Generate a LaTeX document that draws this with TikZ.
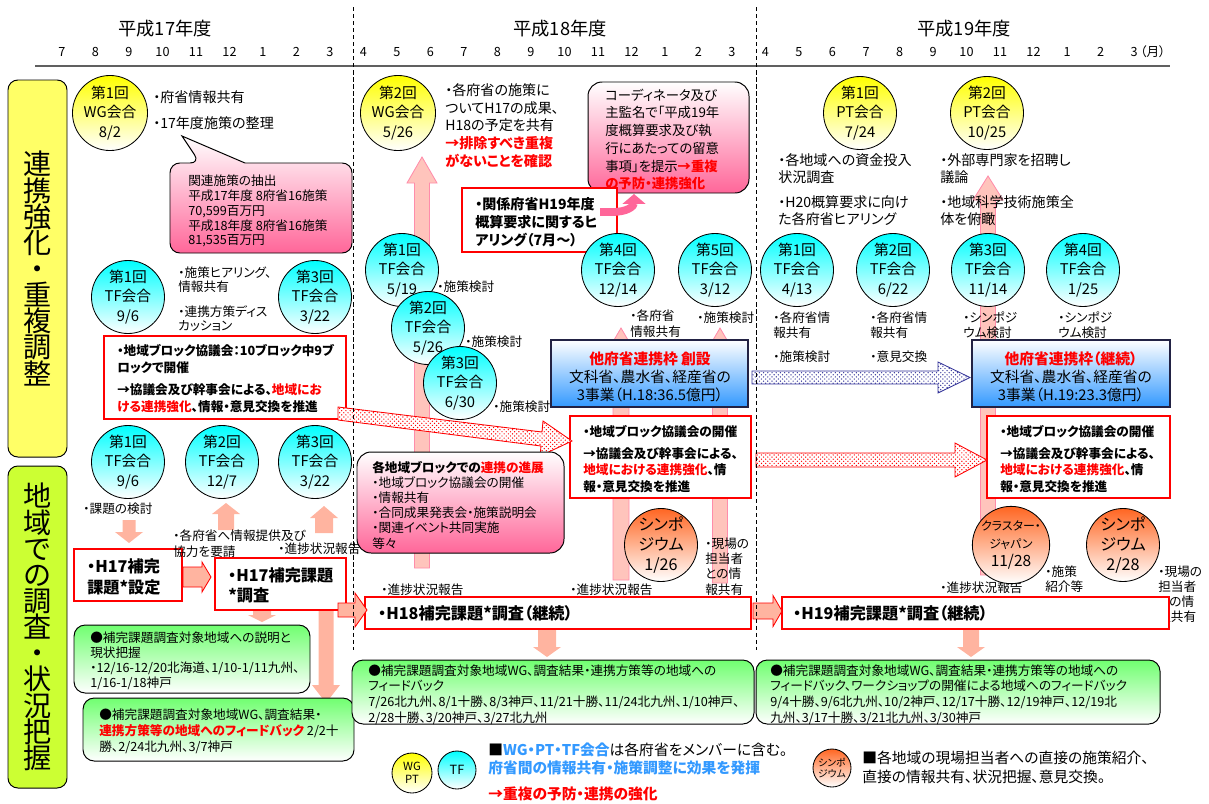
\documentclass[tikz,border=0pt]{standalone}
\usepackage{fontspec}
\setmainfont{Noto Sans CJK JP}[RawFeature={+palt}]
\usepackage{xcolor}
\usepackage{tikz}
\usetikzlibrary{patterns,arrows.meta}

\definecolor{panelY}{HTML}{FFFF66}
\definecolor{panelG}{HTML}{CCFF33}
\definecolor{arrPink}{HTML}{FFC4BC}
\definecolor{arrPinkLine}{HTML}{FF8CAA}
\definecolor{salmon}{HTML}{FFB4A0}
\definecolor{boxPink}{HTML}{FF6699}
\definecolor{boxBlue}{HTML}{3399FF}
\definecolor{boxGreen}{HTML}{70FF70}
\definecolor{symOrange}{HTML}{FF6622}
\definecolor{lblue}{HTML}{3399FF}
\definecolor{navy}{HTML}{333399}
\definecolor{frameDark}{HTML}{222244}
\definecolor{axisgray}{HTML}{606060}

\newcommand{\pxu}{0.025cm}
\newcommand{\redbf}[1]{\textcolor{red}{\bfseries #1}}
\newcommand{\bluebf}[1]{\textcolor{lblue}{\bfseries #1}}
% block arrows: [style]{centre}{tail}{tip}{half shaft}{half head}{head length}
\newcommand{\arrUp}[7][]{%
  \path[#1] ({#2-#5},#3) -- ({#2-#5},{#4+#7}) -- ({#2-#6},{#4+#7}) -- (#2,#4)
    -- ({#2+#6},{#4+#7}) -- ({#2+#5},{#4+#7}) -- ({#2+#5},#3) -- cycle;}
\newcommand{\arrDown}[7][]{%
  \path[#1] ({#2-#5},#3) -- ({#2-#5},{#4-#7}) -- ({#2-#6},{#4-#7}) -- (#2,#4)
    -- ({#2+#6},{#4-#7}) -- ({#2+#5},{#4-#7}) -- ({#2+#5},#3) -- cycle;}
\newcommand{\arrRight}[7][]{%
  \path[#1] (#3,{#2-#5}) -- ({#4-#7},{#2-#5}) -- ({#4-#7},{#2-#6}) -- (#4,#2)
    -- ({#4-#7},{#2+#6}) -- ({#4-#7},{#2+#5}) -- (#3,{#2+#5}) -- cycle;}

\tikzset{
  yearhdr/.style={inner sep=0pt, font=\fontsize{13}{15}\selectfont},
  month/.style={inner sep=0pt, font=\fontsize{9}{10}\selectfont},
  txt/.style={anchor=west, align=left, inner sep=0pt, font=\fontsize{9}{10.6}\selectfont},
  txtm/.style={anchor=west, align=left, inner sep=0pt, font=\fontsize{10}{12.4}\selectfont},
  ring/.style={circle, draw=black, line width=0.6pt, minimum size=73*\pxu, inner sep=0pt, align=center, font=\fontsize{10.5}{13.8}\selectfont},
  wgring/.style={ring, top color=yellow, bottom color=white},
  tfring/.style={ring, top color=cyan, bottom color=white},
  symring/.style={ring, top color=symOrange, bottom color=white, font=\fontsize{11.5}{14.2}\selectfont},
  redbox/.style={rectangle, draw=red, line width=0.75pt, fill=white, inner sep=0pt},
  bluebox/.style={rectangle, draw=frameDark, line width=0.9pt, top color=white, bottom color=boxBlue, inner sep=0pt},
  greenbox/.style={rectangle, rounded corners=8pt, draw=black, line width=0.7pt, top color=boxGreen, bottom color=white, inner sep=0pt},
  pinkbox/.style={draw=black, line width=0.7pt, top color=white, bottom color=boxPink},
  panel/.style={rectangle, rounded corners=7pt, draw=black, line width=0.7pt, minimum width=59*\pxu, inner sep=0pt, align=center, font={\fontsize{20}{18.6}\selectfont\lineskiplimit=-10pt}},
  bigarr/.style={fill=arrPink, draw=arrPinkLine, line width=0.6pt},
  smallarr/.style={fill=salmon},
  edgearr/.style={fill=salmon, draw=red, line width=0.6pt},
  redhatch/.style={preaction={fill=white}, pattern=crosshatch dots, pattern color=red, draw=red, line width=0.6pt},
  bluehatch/.style={preaction={fill=white}, pattern=crosshatch dots, pattern color=navy, draw=navy, line width=0.6pt},
  curvearr/.style={draw=boxPink, line width=5.5pt, -{Triangle[length=7pt,width=16pt]}},
  divider/.style={black, line width=0.7pt, dash pattern=on 3pt off 2pt}
}

\begin{document}
\begin{tikzpicture}[x=0.025cm, y=-0.025cm]
\useasboundingbox (0,0) rectangle (1209,803);

% years and months
\node[yearhdr] (Year17) at (165,29) {平成17年度};
\node[yearhdr] (Year18) at (560,29) {平成18年度};
\node[yearhdr] (Year19) at (964,29) {平成19年度};
\foreach \m [count=\i from 0] in {7,8,9,10,11,12,1,2,3,4,5,6,7,8,9,10,11,12,1,2,3,4,5,6,7,8,9,10,11,12,1,2,3}
  \node[month] (M\i) at ({62+33.5*\i},52) {\m};
\node[month, anchor=west] (Unit) at ([xshift=1.5pt]M32.east) {（月）};
\coordinate (AxisL) at (35,66);
\coordinate (AxisR) at (1170,66);
\draw[axisgray, line width=1.2pt] (AxisL) -- (AxisR);

% side panels
\node[panel, fill=panelY, minimum height=377*\pxu] (Panel1) at (37.5,268.5) {連\\携\\強\\化\\・\\重\\複\\調\\整};
\node[panel, fill=panelG, minimum height=322*\pxu] (Panel2) at (37.5,627) {地\\域\\で\\の\\調\\査\\・\\状\\況\\把\\握};

% long arrows behind everything
\arrUp[bigarr]{422}{568}{157}{7.5}{15}{26}
\arrUp[bigarr]{621}{580}{328}{8}{14}{24}
\arrUp[bigarr]{720}{583}{328}{7.5}{14}{24}
\arrUp[bigarr]{988}{575}{176}{7.5}{15}{24}

% short arrows
\arrDown[smallarr]{129}{520}{543}{6.5}{14}{11}
\arrUp[smallarr]{226}{530}{503}{8}{14}{11}
\arrUp[smallarr]{324}{533}{506}{9}{14}{12}
\arrDown[smallarr]{262}{610}{622}{9}{14}{7}
\arrDown[smallarr]{326}{610}{703}{7.5}{14}{18}
\arrDown[smallarr]{547}{629}{657}{9}{14}{10}
\arrDown[smallarr]{971}{629}{657}{8}{14}{10}

% WG / PT meetings
\node[wgring] (WG1) at (110,113) {第1回\\WG会合\\8/2};
\node[wgring] (WG2) at (398,113) {第2回\\WG会合\\5/26};
\node[wgring] (PT1) at (860,113) {第1回\\PT会合\\7/24};
\node[wgring] (PT2) at (987,113) {第2回\\PT会合\\10/25};
\node[txtm] (Note1) at (153,97) {・府省情報共有};
\node[txtm] (Note2) at (153,123) {・17年度施策の整理};
\node[txtm, font=\fontsize{10}{12.6}\selectfont] (Note3) at (445,125.5) {・各府省の施策に\\ついてH17の成果、\\H18の予定を共有\\\redbf{→排除すべき重複}\\\redbf{がないことを確認}};
\node[txtm, font=\fontsize{10}{12}\selectfont] (Note4) at (778,168.5) {・各地域への資金投入\\状況調査};
\node[txtm, font=\fontsize{10}{12}\selectfont] (Note5) at (778,210.5) {・H20概算要求に向け\\た各府省ヒアリング};
\node[txtm, font=\fontsize{10}{12}\selectfont] (Note6) at (940,168.5) {・外部専門家を招聘し\\議論};
\node[txtm, font=\fontsize{10}{12}\selectfont] (Note7) at (940,210.5) {・地域科学技術施策全\\体を俯瞰};

% callouts
\draw[pinkbox] (200,163) -- (182,136) -- (245,163) [rounded corners=7pt] -- (352,163) -- (352,253) -- (170,253) -- (170,163) -- cycle;
\node[txt] (Extract) at (188,211) {関連施策の抽出\\平成17年度 8府省16施策\\70,599百万円\\平成18年度 8府省16施策\\81,535百万円};
\node[rectangle, rounded corners=10pt, pinkbox, minimum width=161*\pxu, minimum height=111*\pxu] (Notice) at (668.5,137.5) {};
\node[txt, font=\fontsize{9.5}{12.6}\selectfont] (NoticeTxt) at (605,139.5) {コーディネータ及び\\主監名で「平成19年\\度概算要求及び執\\行にあたっての留意\\事項」を提示\redbf{→重複}\\\redbf{の予防・連携強化}};
\node[redbox, minimum width=155*\pxu, minimum height=64*\pxu] (Hearing) at (539.5,220) {};
\node[txt, font=\bfseries\fontsize{10}{12.8}\selectfont] (HearingTxt) at (475,222) {・関係府省H19年度\\概算要求に関するヒ\\アリング（7月～）};
\coordinate (HearOut) at (600,212);
\coordinate (NoticeIn) at (634,194);
\draw[curvearr] (HearOut) -- (612,212) .. controls (628,212) and (634,206) .. (NoticeIn);

% TF meetings (coordination)
\node[tfring] (TFa1) at (128,297) {第1回\\TF会合\\9/6};
\node[tfring] (TFa3) at (315,297) {第3回\\TF会合\\3/22};
\node[txt, font=\fontsize{9}{10}\selectfont] (Note8) at (178,280) {・施策ヒアリング、\\情報共有};
\node[txt, font=\fontsize{9}{10}\selectfont] (Note9) at (178,319) {・連携方策ディス\\カッション};
\node[tfring] (TFb1) at (402,270) {第1回\\TF会合\\5/19};
\node[tfring] (TFb2) at (428,328) {第2回\\TF会合\\5/26};
\node[tfring] (TFb3) at (460,383) {第3回\\TF会合\\6/30};
\node[tfring] (TFb4) at (618,270) {第4回\\TF会合\\12/14};
\node[tfring] (TFb5) at (715,270) {第5回\\TF会合\\3/12};
\node[txt] (Note10) at (437,287) {・施策検討};
\node[txt] (Note11) at (465,342) {・施策検討};
\node[txt] (Note12) at (493,407) {・施策検討};
\node[txt, font=\fontsize{9}{11.8}\selectfont] (Note13) at (630,323.5) {・各府省\\情報共有};
\node[txt] (Note14) at (697,318) {・施策検討};
\node[tfring] (TFc1) at (797,270) {第1回\\TF会合\\4/13};
\node[tfring] (TFc2) at (893,270) {第2回\\TF会合\\6/22};
\node[tfring] (TFc3) at (988,270) {第3回\\TF会合\\11/14};
\node[tfring] (TFc4) at (1083,270) {第4回\\TF会合\\1/25};
\node[txt] (Note15) at (773,325.5) {・各府省情\\報共有};
\node[txt] (Note16) at (773,357) {・施策検討};
\node[txt] (Note17) at (870,325.5) {・各府省情\\報共有};
\node[txt] (Note18) at (870,357) {・意見交換};
\node[txt] (Note19) at (963,325.5) {・シンポジ\\ウム検討};
\node[txt] (Note20) at (1058,325.5) {・シンポジ\\ウム検討};

% cooperation frames
\node[bluebox, minimum width=197*\pxu, minimum height=67*\pxu] (Frame18) at (649.5,373.5) {};
\node[align=center, inner sep=0pt, font=\fontsize{10.5}{12.8}\selectfont] (Frame18Txt) at (650,376.5) {\redbf{他府省連携枠 創設}\\文科省、農水省、経産省の\\3事業（H.18:36.5億円）};
\node[bluebox, minimum width=198*\pxu, minimum height=67*\pxu] (Frame19) at (1071,373.5) {};
\node[align=center, inner sep=0pt, font=\fontsize{10.5}{12.8}\selectfont] (Frame19Txt) at (1071,376.5) {\redbf{他府省連携枠（継続）}\\文科省、農水省、経産省の\\3事業（H.19:23.3億円）};

% block councils
\node[redbox, minimum width=242*\pxu, minimum height=83*\pxu] (Block17) at (225,377.5) {};
\node[txt, font=\bfseries\fontsize{9}{12}\selectfont] (Block17Txt) at (117,378.5) {・地域ブロック協議会：10ブロック中9ブ\\ロックで開催\\[4pt]→協議会及び幹事会による、\textcolor{red}{地域にお}\\\textcolor{red}{ける連携強化}、情報・意見交換を推進};
\node[redbox, minimum width=181*\pxu, minimum height=82*\pxu] (Block18) at (660.5,457) {};
\node[txt, font=\bfseries\fontsize{9}{12}\selectfont] (Block18Txt) at (583,459.5) {・地域ブロック協議会の開催\\[3pt]→協議会及び幹事会による、\\\textcolor{red}{地域における連携強化}、情\\報・意見交換を推進};
\node[redbox, minimum width=183*\pxu, minimum height=82*\pxu] (Block19) at (1078.5,457) {};
\node[txt, font=\bfseries\fontsize{9}{12}\selectfont] (Block19Txt) at (1000,459.5) {・地域ブロック協議会の開催\\[3pt]→協議会及び幹事会による、\\\textcolor{red}{地域における連携強化}、情\\報・意見交換を推進};

% hatched arrows
\path[redhatch] (338,407) -- (542,432) -- (543,421) -- (572,441) -- (540,456) -- (541,446) -- (338,420) -- cycle;
\arrRight[bluehatch]{377.5}{752}{970}{6.5}{15.5}{32}
\arrRight[redhatch]{460}{756}{987}{7}{17}{32}

% regional progress
\node[rectangle, rounded corners=10pt, pinkbox, minimum width=207*\pxu, minimum height=101*\pxu] (Progress) at (460.5,502.5) {};
\node[txt, font=\fontsize{9}{10.8}\selectfont] (ProgressTxt) at (372,505) {{\bfseries 各地域ブロックでの\textcolor{red}{連携の進展}}\\・地域ブロック協議会の開催\\・情報共有\\・合同成果発表会・施策説明会\\・関連イベント共同実施\\等々};

% TF meetings (survey)
\node[tfring] (TFd1) at (128,462) {第1回\\TF会合\\9/6};
\node[tfring] (TFd2) at (222,462) {第2回\\TF会合\\12/7};
\node[tfring] (TFd3) at (315,462) {第3回\\TF会合\\3/22};
\node[txt] (Note21) at (83,509) {・課題の検討};
\node[txt] (Note24) at (381,590) {・進捗状況報告};
\node[txt] (Note25) at (570,590) {・進捗状況報告};
\node[txt] (Note26) at (940,588) {・進捗状況報告};

% symposia
\node[symring] (Sym1) at (661,545) {シンポ\\ジウム\\1/26};
\node[symring, font=\fontsize{8.5}{13}\selectfont] (Cluster) at (1011,545) {クラスター・\\ジャパン\\{\fontsize{11}{13}\selectfont 11/28}};
\node[symring] (Sym2) at (1123,545) {シンポ\\ジウム\\2/28};
\node[txt, font=\fontsize{9}{11}\selectfont] (Note27) at (705,566.5) {・現場の\\担当者\\との情\\報共有};
\node[txt, font=\fontsize{9}{10.6}\selectfont] (Note28) at (1045,579.5) {・施策\\紹介等};
\node[txt, font=\fontsize{9}{10.6}\selectfont] (Note29) at (1158,594.5) {・現場の\\担当者\\との情\\報共有};

% supplementary surveys
\node[redbox, minimum width=108*\pxu, minimum height=52*\pxu] (Set17) at (128,575) {};
\node[txt, font=\bfseries\fontsize{11.5}{14.9}\selectfont] (Set17Txt) at (87,576.5) {・H17補完\\課題*設定};
\node[redbox, minimum width=131*\pxu, minimum height=52*\pxu] (Survey17) at (280.5,584) {};
\node[txt, font=\bfseries\fontsize{11.5}{14.2}\selectfont] (Survey17Txt) at (228,585) {・H17補完課題\\*調査};
\node[redbox, minimum width=386*\pxu, minimum height=32*\pxu] (Survey18) at (558,613) {};
\node[txt, font=\bfseries\fontsize{11.5}{14}\selectfont] (Survey18Txt) at (378,613) {・H18補完課題*調査（継続）};
\node[redbox, minimum width=387*\pxu, minimum height=32*\pxu] (Survey19) at (975.5,613) {};
\node[txt, font=\bfseries\fontsize{11.5}{14}\selectfont] (Survey19Txt) at (793,613) {・H19補完課題*調査（継続）};
\arrRight[edgearr]{577}{183}{211}{10}{15}{9}
\arrRight[edgearr]{610}{338}{367}{7}{17}{12}
\arrRight[edgearr]{611}{753}{782}{8}{15.5}{9}
\node[txt, font=\fontsize{9}{11.5}\selectfont] (Note22) at (173,543.5) {・各府省へ情報提供及び\\協力を要請};
\node[txt] (Note23) at (278,549) {・進捗状況報告};

% feedback
\node[greenbox, minimum width=236*\pxu, minimum height=68*\pxu] (Feed1) at (192,659) {};
\node[txt, font=\fontsize{9}{10.6}\selectfont] (Feed1Txt) at (90,660.5) {●補完課題調査対象地域への説明と\\現状把握\\・12/16-12/20北海道、1/10-1/11九州、\\1/16-1/18神戸};
\node[greenbox, minimum width=271*\pxu, minimum height=63*\pxu] (Feed2) at (218.5,729.5) {};
\node[txt, font=\fontsize{9}{11.3}\selectfont] (Feed2Txt) at (99,731) {●補完課題調査対象地域WG、調査結果・\\\redbf{連携方策等の地域へのフィードバック} 2/2十\\勝、2/24北九州、3/7神戸};
\node[greenbox, minimum width=402*\pxu, minimum height=64*\pxu] (Feed3) at (553,692) {};
\node[txt, font=\fontsize{9}{11.1}\selectfont] (Feed3Txt) at (368,694.5) {●補完課題調査対象地域WG、調査結果・連携方策等の地域への\\フィードバック\\7/26北九州、8/1十勝、8/3神戸、11/21十勝、11/24北九州、1/10神戸、\\2/28十勝、3/20神戸、3/27北九州};
\node[greenbox, minimum width=404*\pxu, minimum height=64*\pxu] (Feed4) at (958,692) {};
\node[txt, font=\fontsize{9}{11.1}\selectfont] (Feed4Txt) at (770,694.5) {●補完課題調査対象地域WG、調査結果・連携方策等の地域への\\フィードバック、ワークショップの開催による地域へのフィードバック\\9/4十勝、9/6北九州、10/2神戸、12/17十勝、12/19神戸、12/19北\\九州、3/17十勝、3/21北九州、3/30神戸};

% legend
\node[wgring, minimum size=40*\pxu, font=\fontsize{8}{9.5}\selectfont] (KeyWG) at (412,773) {WG\\PT};
\node[tfring, minimum size=38*\pxu, font=\fontsize{9}{10}\selectfont] (KeyTF) at (457,770) {TF};
\node[txtm, font=\fontsize{10.5}{12}\selectfont] (Key1) at (488,750) {■\bluebf{WG・PT・TF会合}は各府省をメンバーに含む。};
\node[txtm, font=\fontsize{10.5}{12}\selectfont] (Key2) at (488,768) {\bluebf{府省間の情報共有・施策調整に効果を発揮}};
\node[txtm, font=\fontsize{10.5}{12}\selectfont] (Key3) at (488,794) {\redbf{→重複の予防・連携の強化}};
\node[symring, minimum size=38*\pxu, font=\fontsize{7}{8}\selectfont] (KeySym) at (832,768) {シンポ\\ジウム};
\node[txtm, font=\fontsize{10.5}{13.5}\selectfont] (Key4) at (862,767.5) {■各地域の現場担当者への直接の施策紹介、\\直接の情報共有、状況把握、意見交換。};

% fiscal year dividers
\coordinate (DivAtop) at (353,7);
\coordinate (DivAbot) at (353,650);
\coordinate (DivBtop) at (756,7);
\coordinate (DivBbot) at (756,650);
\draw[divider] (DivAtop) -- (DivAbot);
\draw[divider] (DivBtop) -- (DivBbot);
\end{tikzpicture}
\end{document}
